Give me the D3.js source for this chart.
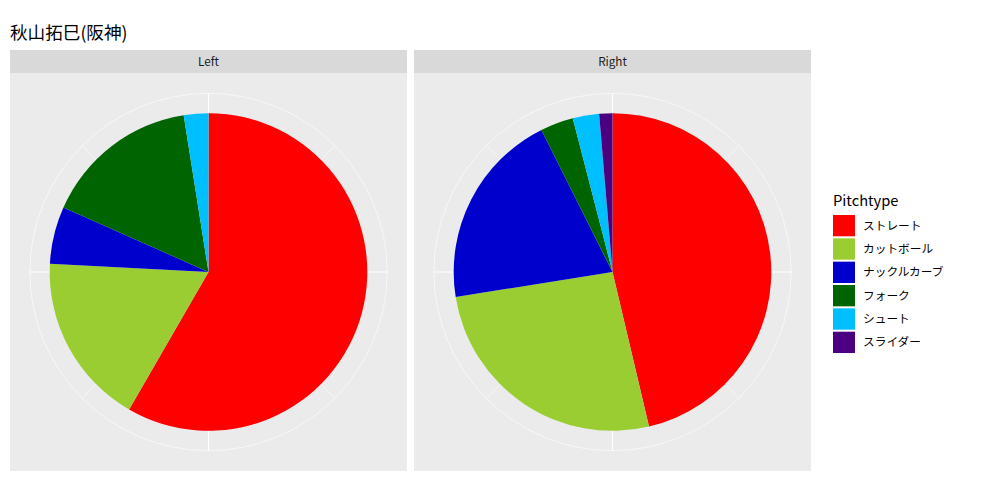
<!DOCTYPE html>
<html>
<head>
<meta charset="utf-8">
<script src="https://cdn.jsdelivr.net/npm/d3@7"></script>
<style>
  body { margin: 0; background: #fff; }
  text { font-family: "Noto Sans CJK JP", "Noto Sans", sans-serif; }
</style>
</head>
<body>
<svg width="1000" height="500"></svg>
<script>
// chart data
var title = "秋山拓巳(阪神)";
var facets = ["Left", "Right"];
var pitchTypes = ["ストレート", "カットボール", "ナックルカーブ", "フォーク", "シュート", "スライダー"];
var pitchColors = ["#FF0000", "#9ACD32", "#0000CD", "#006400", "#00BFFF", "#4B0082"];
var leftCounts = [70, 21, 7, 19, 3, 0];
var rightCounts = [69, 39, 30, 5, 4, 2];
var thetaMajor = [0, 0.25, 0.5, 0.75];
var thetaMinor = [0.125, 0.375, 0.625, 0.875];

var counts = { Left: leftCounts, Right: rightCounts };

var svg = d3.select("svg"),
  width = +svg.attr("width"),
  height = +svg.attr("height");

var stripTop = 50, stripH = 23, panelBottom = 471;

var fx = d3.scaleBand()
  .domain(facets)
  .range([10, 811])
  .paddingInner(7 / 404)
  .paddingOuter(0);

var color = d3.scaleOrdinal().domain(pitchTypes).range(pitchColors);

// title
svg.append("text")
  .attr("x", 10)
  .attr("y", 39)
  .attr("font-size", "17.6px")
  .attr("fill", "#000")
  .text(title);

var panelTop = stripTop + stripH;
var panelH = panelBottom - panelTop;

var facet = svg.selectAll("g.facet")
  .data(facets)
  .enter().append("g")
    .attr("class", "facet")
    .attr("transform", function(d) { return "translate(" + fx(d) + ",0)"; });

// strip
facet.append("rect")
  .attr("x", 0).attr("y", stripTop)
  .attr("width", fx.bandwidth()).attr("height", stripH)
  .attr("fill", "#D9D9D9");

facet.append("text")
  .attr("x", fx.bandwidth() / 2)
  .attr("y", stripTop + stripH / 2)
  .attr("dy", "0.35em")
  .attr("text-anchor", "middle")
  .attr("font-size", "11.7px")
  .attr("fill", "#1A1A1A")
  .text(function(d) { return d; });

// panel background
facet.append("rect")
  .attr("x", 0).attr("y", panelTop)
  .attr("width", fx.bandwidth()).attr("height", panelH)
  .attr("fill", "#EBEBEB");

var size = Math.min(fx.bandwidth(), panelH);
var rPie = 0.4 * size, rOuter = 0.45 * size;

var center = facet.append("g")
  .attr("transform", "translate(" + fx.bandwidth() / 2 + "," + (panelTop + panelH / 2) + ")");

// theta position -> angle, 0 at top, clockwise
var theta = d3.scaleLinear().domain([0, 1]).range([0, 2 * Math.PI]);

center.append("circle")
  .attr("r", rOuter)
  .attr("fill", "none")
  .attr("stroke", "#fff")
  .attr("stroke-width", 0.6);

function spokes(sel, breaks, w) {
  sel.selectAll(null)
    .data(breaks)
    .enter().append("line")
      .attr("x1", 0).attr("y1", 0)
      .attr("x2", function(b) { return rOuter * Math.sin(theta(b)); })
      .attr("y2", function(b) { return -rOuter * Math.cos(theta(b)); })
      .attr("stroke", "#fff")
      .attr("stroke-width", w);
}
center.call(spokes, thetaMinor, 0.6);
center.call(spokes, thetaMajor, 1.1);

var pie = d3.pie().sort(null).value(function(d) { return d.value; });
var arc = d3.arc().innerRadius(0).outerRadius(rPie);

center.selectAll("path")
  .data(function(f) {
    return pie(pitchTypes.map(function(p, i) { return { type: p, value: counts[f][i] }; }));
  })
  .enter().append("path")
    .attr("d", arc)
    .attr("fill", function(d) { return color(d.data.type); });

// legend
var legend = svg.append("g").attr("transform", "translate(833,0)");

legend.append("text")
  .attr("x", 0).attr("y", 206)
  .attr("font-size", "14.7px")
  .attr("fill", "#000")
  .text("Pitchtype");

var ky = d3.scaleBand().domain(pitchTypes).range([215, 353]).paddingInner(2 / 23).paddingOuter(0);

var item = legend.selectAll("g.item")
  .data(pitchTypes)
  .enter().append("g")
    .attr("class", "item")
    .attr("transform", function(d) { return "translate(0," + ky(d) + ")"; });

item.append("rect")
  .attr("width", 22).attr("height", ky.bandwidth())
  .attr("fill", function(d) { return color(d); });

item.append("text")
  .attr("x", 30)
  .attr("y", ky.bandwidth() / 2)
  .attr("dy", "0.35em")
  .attr("font-size", "11.7px")
  .attr("fill", "#000")
  .text(function(d) { return d; });
</script>
</body>
</html>
